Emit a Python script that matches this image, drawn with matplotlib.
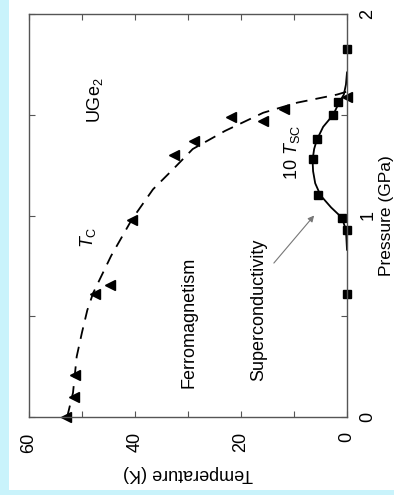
import matplotlib.pyplot as plt
from matplotlib.patches import Rectangle

plt.rcParams['font.family'] = ['Liberation Sans', 'DejaVu Sans']
plt.rcParams['mathtext.fontset'] = 'custom'
plt.rcParams['mathtext.rm'] = 'Liberation Sans'
plt.rcParams['mathtext.it'] = 'Liberation Sans:italic'

# Tc points (triangles): temperature (K), pressure (GPa)
tc_temp = [53.0, 51.6, 51.3, 47.5, 44.7, 40.5, 32.7, 28.8, 21.9, 15.9, 11.8, 0.0]
tc_pres = [0.0, 0.10, 0.21, 0.61, 0.655, 0.98, 1.30, 1.37, 1.49, 1.47, 1.53, 1.59]

# 10 x Tsc points (squares)
sc_temp = [0.0, 0.0, 0.9, 5.5, 6.4, 5.6, 2.6, 1.7, 0.0]
sc_pres = [0.61, 0.93, 0.99, 1.10, 1.28, 1.38, 1.50, 1.565, 1.825]

# dashed Tc line
tc_line_pres = [0.0, 0.12, 0.30, 0.42, 0.53, 0.615, 0.80, 0.98, 1.13, 1.23, 1.33, 1.42, 1.51, 1.56, 1.60, 1.615]
tc_line_temp = [52.8, 51.7, 51.0, 50.0, 49.0, 47.9, 44.5, 40.6, 36.6, 32.8, 29.1, 23.0, 15.8, 9.4, 1.9, 0.0]

# solid Tsc line
sc_line_pres = [0.83, 0.93, 0.99, 1.04, 1.10, 1.16, 1.22, 1.275, 1.33, 1.375, 1.44, 1.50, 1.56, 1.60, 1.65, 1.71]
sc_line_temp = [0.0, 0.2, 1.0, 3.0, 5.0, 6.0, 6.4, 6.5, 6.2, 5.7, 4.5, 2.6, 1.5, 0.6, 0.2, 0.0]

fig = plt.figure(figsize=(3.94, 4.95), dpi=100, facecolor='#c9f3fb')
fig.patches.append(Rectangle((9/394, 5/495), 1, 1, transform=fig.transFigure,
                             facecolor='white', edgecolor='none', zorder=-10))

ax = fig.add_axes([29/394, 78/495, 318/394, 403/495])
ax.set_facecolor('white')

ax.plot(tc_line_temp, tc_line_pres, color='black', lw=1.3, dashes=(6.5, 4.5))
ax.plot(sc_line_temp, sc_line_pres, color='black', lw=1.3)
ax.plot(tc_temp, tc_pres, '<', color='black', ms=6.5, clip_on=False, ls='none')
ax.plot(sc_temp, sc_pres, 's', color='black', ms=6, clip_on=False, ls='none')

ax.set_xlim(60, 0)
ax.set_ylim(0, 2)
ax.set_xticks([0, 10, 20, 30, 40, 50, 60])
ax.set_xticklabels(['0', '', '20', '', '40', '', '60'])
ax.set_yticks([0, 0.5, 1, 1.5, 2])
ax.set_yticklabels(['0', '', '1', '', '2'])
ax.tick_params(direction='in', length=4, width=0.8, color='#555555',
               labelsize=13, pad=9, top=True, right=True)
ax.tick_params(axis='x', labelrotation=90, pad=11)
ax.tick_params(axis='y', labelleft=False, labelright=True, labelrotation=90)
for lab in ax.get_yticklabels():
    lab.set_va('center')
for sp in ax.spines.values():
    sp.set_color('#555555')
    sp.set_linewidth(1.0)

ax.set_xlabel('Temperature (K)', fontsize=13, rotation=180, labelpad=9)
ax.yaxis.set_label_position('right')
ax.set_ylabel('Pressure (GPa)', fontsize=12.5, rotation=90, labelpad=2)

ax.text(47.5, 1.57, 'UGe$_2$', fontsize=13, rotation=90, ha='center', va='center')
ax.text(48.9, 0.89, '$T_\\mathrm{C}$', fontsize=13, rotation=90, ha='center', va='center')
ax.text(29.8, 0.47, 'Ferromagnetism', fontsize=13, rotation=90, ha='center', va='center')
ax.text(16.6, 0.53, 'Superconductivity', fontsize=13, rotation=90, ha='center', va='center')
ax.text(10.4, 1.315, '10 $T_\\mathrm{SC}$', fontsize=13, rotation=90, ha='center', va='center')
ax.annotate('', xy=(6.2, 1.0), xytext=(13.8, 0.764),
            arrowprops=dict(arrowstyle='-|>', color='#777777', lw=0.8,
                            mutation_scale=9, shrinkA=0, shrinkB=0))

fig.savefig('out.png', dpi=100, facecolor=fig.get_facecolor())
